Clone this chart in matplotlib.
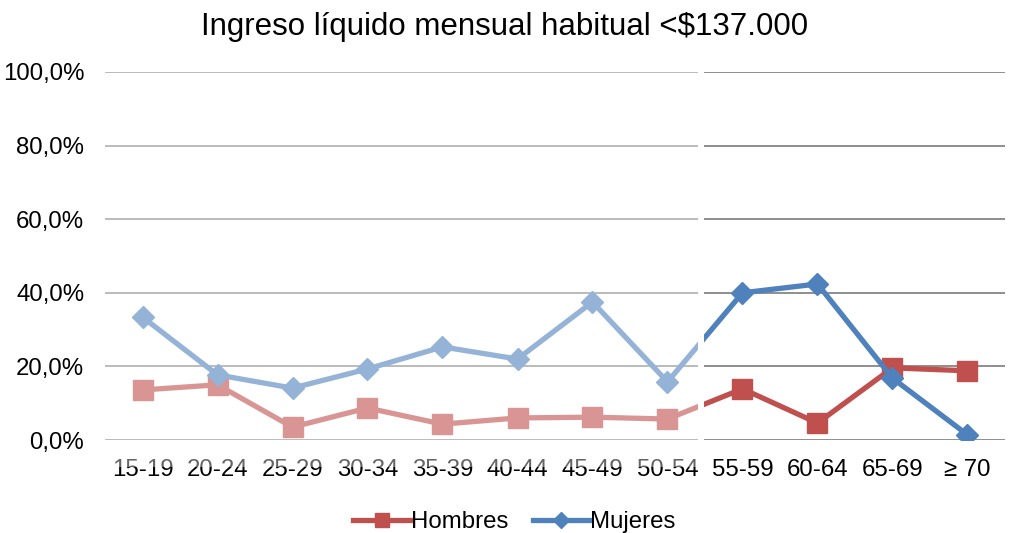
import numpy as np
import matplotlib.pyplot as plt
from matplotlib.patches import Rectangle
from matplotlib.ticker import FuncFormatter

plt.rcParams['font.family'] = ['Liberation Sans', 'DejaVu Sans']

# DATA
edades = ["15-19", "20-24", "25-29", "30-34", "35-39", "40-44", "45-49",
          "50-54", "55-59", "60-64", "65-69", "\u2265 70"]
hombres = [13.6, 15.0, 3.5, 8.7, 4.3, 6.0, 6.2, 5.7, 13.9, 4.6, 19.6, 18.8]
mujeres = [33.4, 17.7, 14.1, 19.3, 25.3, 22.0, 37.5, 15.8, 40.0, 42.4, 16.8, 1.4]

W, H = 1009, 533
fig = plt.figure(figsize=(W/100, H/100), dpi=100)
ax = fig.add_axes([105/W, 1 - 440/H, 900/W, 368/H])

x = np.arange(len(edades))
ax.plot(x, hombres, color="#C0504D", lw=3.8, marker="s", markersize=14,
        label="Hombres", zorder=3)
ax.plot(x, mujeres, color="#4F81BD", lw=3.8, marker="D", markersize=11,
        label="Mujeres", zorder=4)

ax.set_xlim(-0.5, len(edades) - 0.5)
ax.set_ylim(0, 100)
ax.set_yticks(np.arange(0, 101, 20))
ax.yaxis.set_major_formatter(FuncFormatter(lambda v, p: f"{v:.1f}%".replace(".", ",")))
ax.set_xticks(x)
ax.set_xticklabels(edades)
ax.tick_params(axis="both", length=0, labelsize=17.3, colors="black")
ax.tick_params(axis="x", pad=14)
ax.tick_params(axis="y", pad=15)
ax.grid(axis="y", color="#868686", lw=1.3)
ax.set_axisbelow(True)
for s in ax.spines.values():
    s.set_visible(False)

fig.suptitle("Ingreso líquido mensual habitual <$137.000", fontsize=22.5, y=0.978)

ax.legend(loc="upper center", bbox_to_anchor=(0.455, -0.135), ncol=2, frameon=False,
          fontsize=17.3, handlelength=2.4, columnspacing=1.0, handletextpad=0.0,
          markerscale=0.75)

# washed-out overlay on the left part of the chart
fig.patches.append(Rectangle((100/W, 1 - 467/H), 598/W, 397/H, transform=fig.transFigure,
                             facecolor="white", alpha=0.4, edgecolor="none", zorder=10))
fig.patches.append(Rectangle((698/W, 1 - 467/H), 6/W, 397/H, transform=fig.transFigure,
                             facecolor="white", edgecolor="none", zorder=10))

fig.savefig("out.png", dpi=100)
